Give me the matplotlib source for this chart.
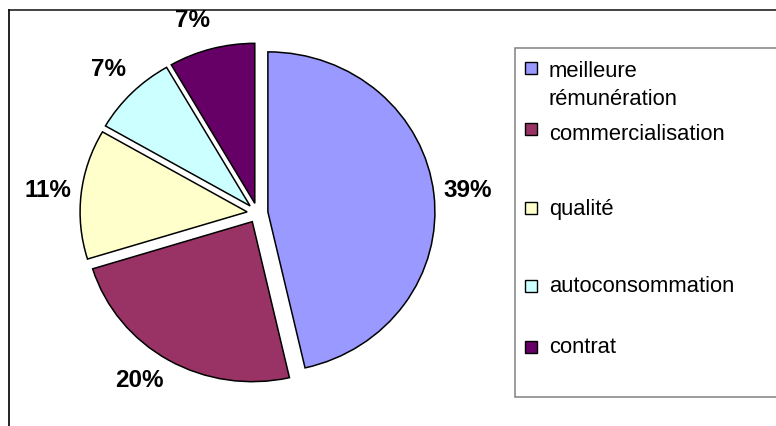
import numpy as np
import matplotlib
matplotlib.use("Agg")
import matplotlib.pyplot as plt
from matplotlib.patches import Rectangle
from matplotlib.lines import Line2D

# -----------------------------
# Data
# -----------------------------
categories = ["meilleure\nrémunération", "commercialisation", "qualité",
              "autoconsommation", "contrat"]
values = [39, 20, 11, 7, 7]
value_labels = ["39%", "20%", "11%", "7%", "7%"]
colors = ["#9999FF", "#993366", "#FFFFCC", "#CCFFFF", "#660066"]

W, H = 776, 426
SX = 1.044  # the original chart is slightly stretched horizontally
FONT = "Liberation Sans"

fig = plt.figure(figsize=(W / 100, H / 100), dpi=100)
ax = fig.add_axes([0, 0, 1, 1])


def px(x):
    # pixel column -> data x
    return x / SX


def py(y):
    # pixel row (from top) -> data y (from bottom)
    return H - y


# -----------------------------
# Pie (explode is in data units here)
# -----------------------------
cx, cy, r = px(257.5), py(213), 160
wedges, _ = ax.pie(
    values,
    colors=colors,
    explode=[10] * len(values),
    startangle=90,
    counterclock=False,
    center=(cx, cy),
    radius=r,
    wedgeprops=dict(edgecolor="black", linewidth=1.1),
)

# small angle nudges so labels sit where Excel put them
label_nudge = [0, -4, 0, 0, 3]
for w, lab, nudge in zip(wedges, value_labels, label_nudge):
    mid = np.deg2rad((w.theta1 + w.theta2) / 2 + nudge)
    d = 1.265 * r
    ax.text(cx + d * np.cos(mid), cy + d * np.sin(mid), lab,
            ha="center", va="center", fontsize=17.5, fontweight="bold",
            family=FONT)

# -----------------------------
# Chart frame and legend (drawn by hand, Excel style)
# -----------------------------
ax.add_line(Line2D([px(9), px(W)], [py(10), py(10)], color="#333333", lw=1.3))
ax.add_line(Line2D([px(9), px(9)], [py(10), 0], color="#111111", lw=1.3))

ax.add_patch(Rectangle((px(515), py(397)), px(300), 349, facecolor="white",
                       edgecolor="#808080", lw=1.1))

marker_rows = [68, 129, 208, 286, 347]
text_rows = [105, 140, 215, 292, 353]
for cat, col, my, ty in zip(categories, colors, marker_rows, text_rows):
    ax.add_patch(Rectangle((px(525), py(my) - 6), px(12), 12, facecolor=col,
                           edgecolor="black", lw=1.0))
    ax.text(px(549), py(ty), cat, ha="left", va="baseline", fontsize=15.8,
            family=FONT, linespacing=1.42)

ax.set_xlim(0, px(W))
ax.set_ylim(0, H)
ax.set_aspect("auto")
ax.axis("off")

fig.savefig("out.png", dpi=100)
